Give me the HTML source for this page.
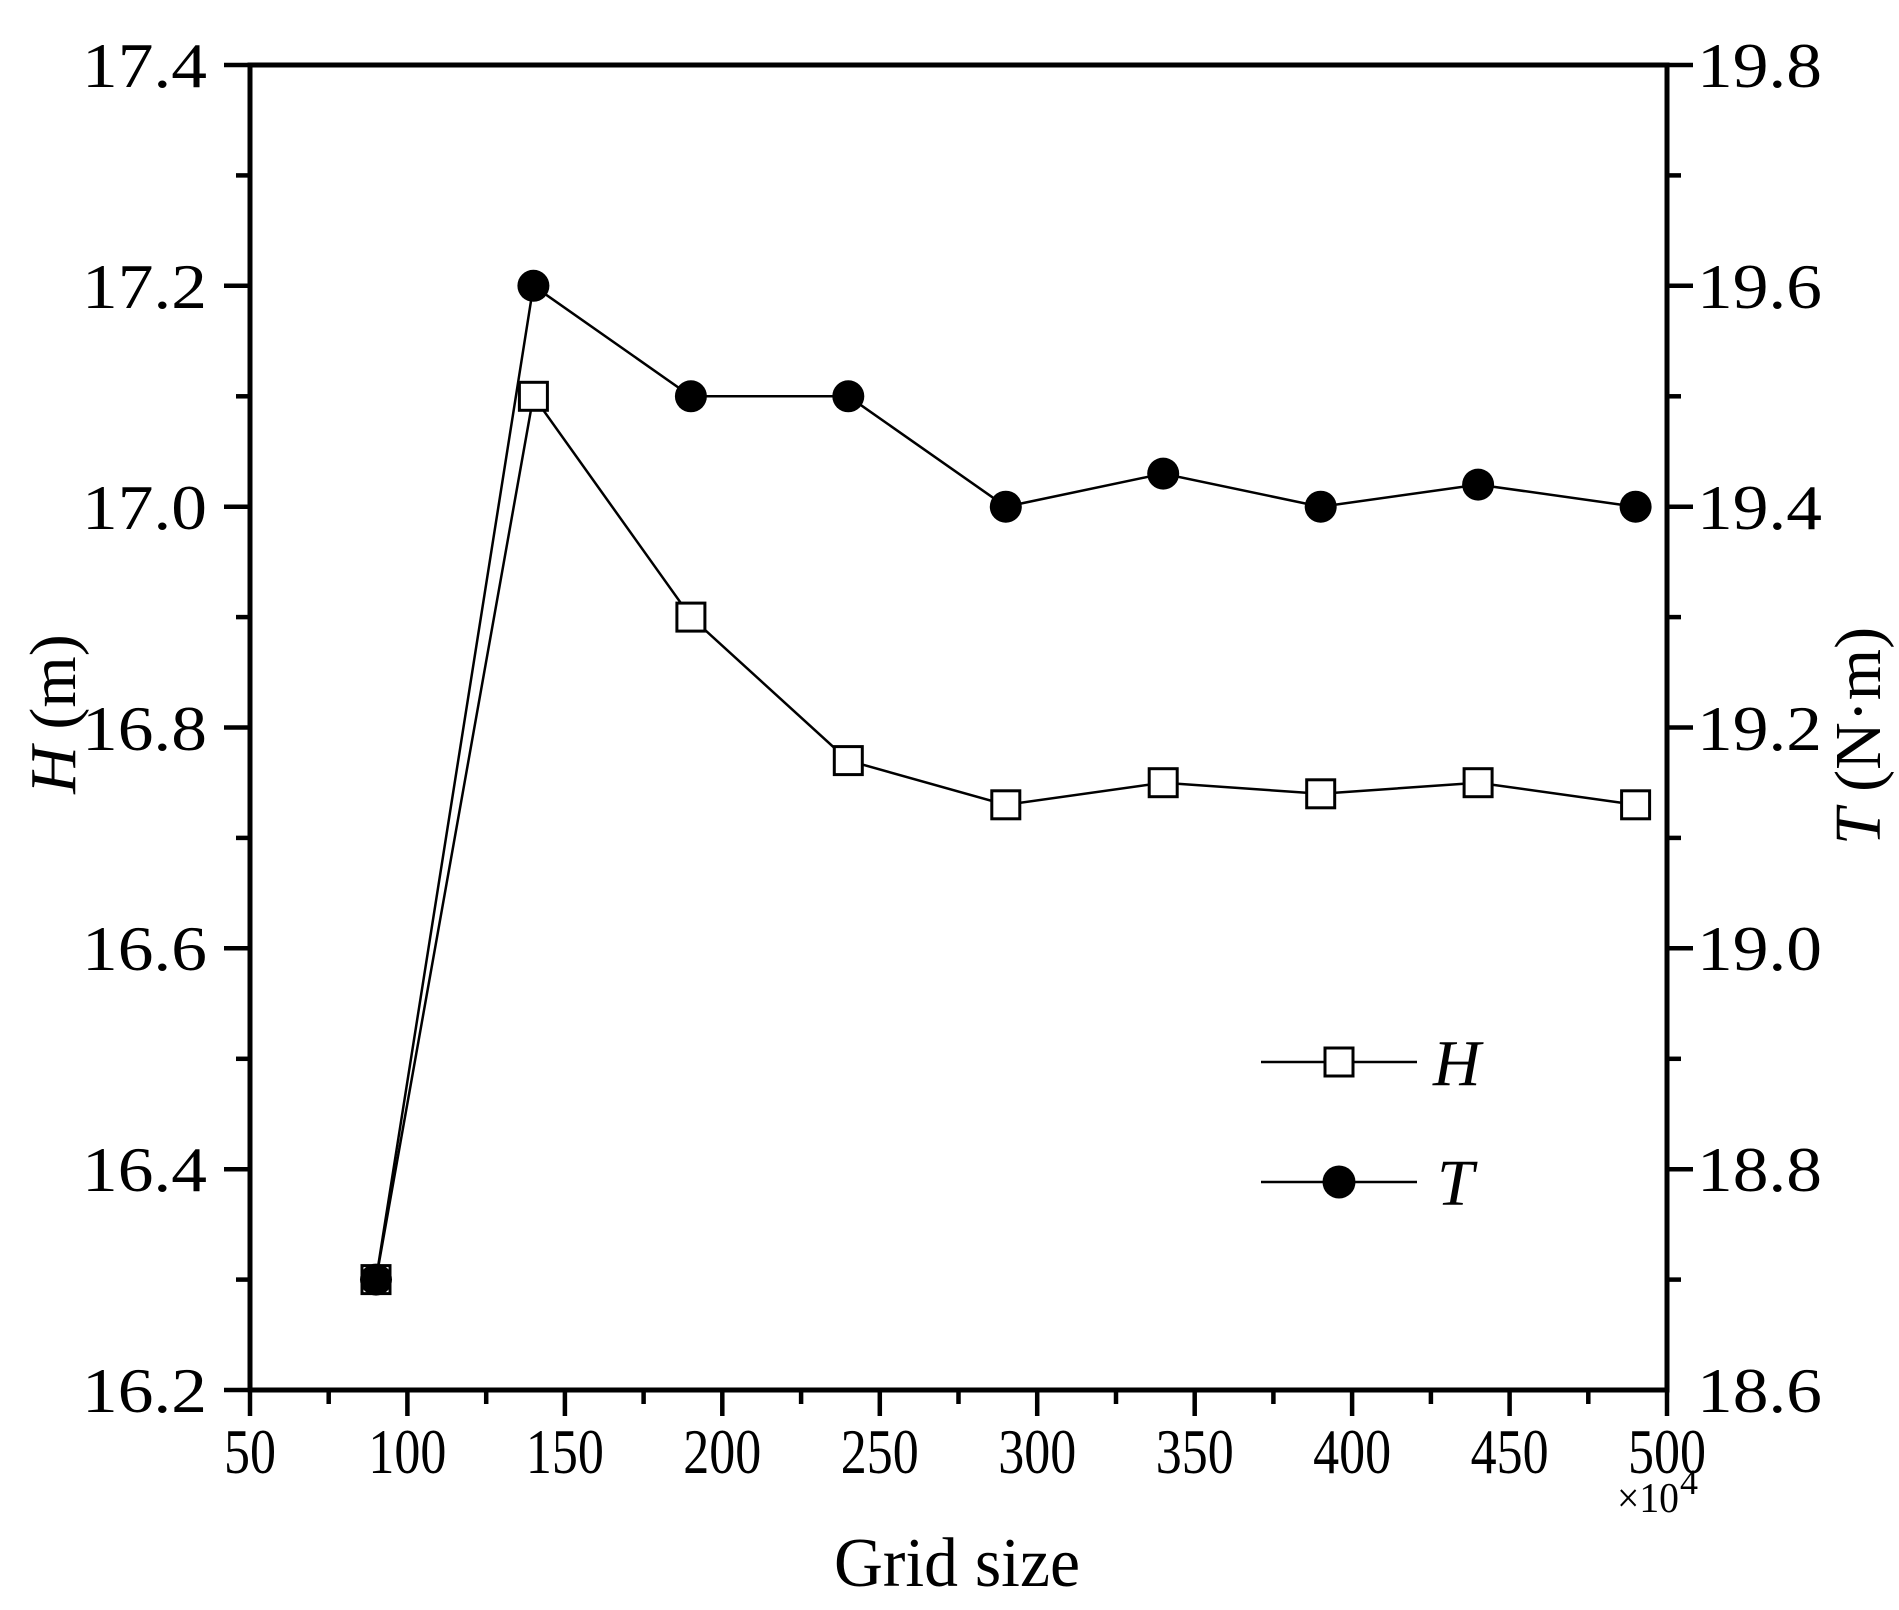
<!DOCTYPE html>
<html><head><meta charset="utf-8"><style>body{margin:0;background:#fff}svg{display:block}</style></head><body>
<svg width="1899" height="1610" viewBox="0 0 1899 1610" xmlns="http://www.w3.org/2000/svg" font-family="'Liberation Serif', serif">
<g stroke="#000" stroke-width="5" fill="none">
<rect x="250" y="65" width="1417" height="1325"/>
</g>
<g stroke="#000" stroke-width="4.5">
<line x1="250" y1="1390" x2="250" y2="1416"/><line x1="407.4" y1="1390" x2="407.4" y2="1416"/><line x1="564.9" y1="1390" x2="564.9" y2="1416"/><line x1="722.3" y1="1390" x2="722.3" y2="1416"/><line x1="879.8" y1="1390" x2="879.8" y2="1416"/><line x1="1037.2" y1="1390" x2="1037.2" y2="1416"/><line x1="1194.7" y1="1390" x2="1194.7" y2="1416"/><line x1="1352.1" y1="1390" x2="1352.1" y2="1416"/><line x1="1509.6" y1="1390" x2="1509.6" y2="1416"/><line x1="1667" y1="1390" x2="1667" y2="1416"/>
<line x1="328.7" y1="1390" x2="328.7" y2="1404"/><line x1="486.2" y1="1390" x2="486.2" y2="1404"/><line x1="643.6" y1="1390" x2="643.6" y2="1404"/><line x1="801.1" y1="1390" x2="801.1" y2="1404"/><line x1="958.5" y1="1390" x2="958.5" y2="1404"/><line x1="1116" y1="1390" x2="1116" y2="1404"/><line x1="1273.4" y1="1390" x2="1273.4" y2="1404"/><line x1="1430.9" y1="1390" x2="1430.9" y2="1404"/><line x1="1588.3" y1="1390" x2="1588.3" y2="1404"/>
<line x1="224" y1="65" x2="250" y2="65"/><line x1="224" y1="285.8" x2="250" y2="285.8"/><line x1="224" y1="506.7" x2="250" y2="506.7"/><line x1="224" y1="727.5" x2="250" y2="727.5"/><line x1="224" y1="948.3" x2="250" y2="948.3"/><line x1="224" y1="1169.2" x2="250" y2="1169.2"/><line x1="224" y1="1390" x2="250" y2="1390"/>
<line x1="236" y1="175.4" x2="250" y2="175.4"/><line x1="236" y1="396.3" x2="250" y2="396.3"/><line x1="236" y1="617.1" x2="250" y2="617.1"/><line x1="236" y1="837.9" x2="250" y2="837.9"/><line x1="236" y1="1058.8" x2="250" y2="1058.8"/><line x1="236" y1="1279.6" x2="250" y2="1279.6"/>
<line x1="1667" y1="65" x2="1693" y2="65"/><line x1="1667" y1="285.8" x2="1693" y2="285.8"/><line x1="1667" y1="506.7" x2="1693" y2="506.7"/><line x1="1667" y1="727.5" x2="1693" y2="727.5"/><line x1="1667" y1="948.3" x2="1693" y2="948.3"/><line x1="1667" y1="1169.2" x2="1693" y2="1169.2"/>
<line x1="1667" y1="175.4" x2="1681" y2="175.4"/><line x1="1667" y1="396.3" x2="1681" y2="396.3"/><line x1="1667" y1="617.1" x2="1681" y2="617.1"/><line x1="1667" y1="837.9" x2="1681" y2="837.9"/><line x1="1667" y1="1058.8" x2="1681" y2="1058.8"/><line x1="1667" y1="1279.6" x2="1681" y2="1279.6"/>
</g>
<g font-size="64" text-anchor="middle" fill="#000">
<text x="250" y="1473" textLength="52" lengthAdjust="spacingAndGlyphs">50</text>
<text x="407.4" y="1473" textLength="78" lengthAdjust="spacingAndGlyphs">100</text>
<text x="564.9" y="1473" textLength="78" lengthAdjust="spacingAndGlyphs">150</text>
<text x="722.3" y="1473" textLength="78" lengthAdjust="spacingAndGlyphs">200</text>
<text x="879.8" y="1473" textLength="78" lengthAdjust="spacingAndGlyphs">250</text>
<text x="1037.2" y="1473" textLength="78" lengthAdjust="spacingAndGlyphs">300</text>
<text x="1194.7" y="1473" textLength="78" lengthAdjust="spacingAndGlyphs">350</text>
<text x="1352.1" y="1473" textLength="78" lengthAdjust="spacingAndGlyphs">400</text>
<text x="1509.6" y="1473" textLength="78" lengthAdjust="spacingAndGlyphs">450</text>
<text x="1667" y="1473" textLength="78" lengthAdjust="spacingAndGlyphs">500</text>
</g>
<g font-size="64" text-anchor="end" fill="#000">
<text x="207" y="87" textLength="125" lengthAdjust="spacingAndGlyphs">17.4</text>
<text x="207" y="308" textLength="125" lengthAdjust="spacingAndGlyphs">17.2</text>
<text x="207" y="529" textLength="125" lengthAdjust="spacingAndGlyphs">17.0</text>
<text x="207" y="750" textLength="125" lengthAdjust="spacingAndGlyphs">16.8</text>
<text x="207" y="970" textLength="125" lengthAdjust="spacingAndGlyphs">16.6</text>
<text x="207" y="1191" textLength="125" lengthAdjust="spacingAndGlyphs">16.4</text>
<text x="207" y="1412" textLength="125" lengthAdjust="spacingAndGlyphs">16.2</text>
</g>
<g font-size="64" text-anchor="start" fill="#000">
<text x="1697" y="87" textLength="125" lengthAdjust="spacingAndGlyphs">19.8</text>
<text x="1697" y="308" textLength="125" lengthAdjust="spacingAndGlyphs">19.6</text>
<text x="1697" y="529" textLength="125" lengthAdjust="spacingAndGlyphs">19.4</text>
<text x="1697" y="750" textLength="125" lengthAdjust="spacingAndGlyphs">19.2</text>
<text x="1697" y="970" textLength="125" lengthAdjust="spacingAndGlyphs">19.0</text>
<text x="1697" y="1191" textLength="125" lengthAdjust="spacingAndGlyphs">18.8</text>
<text x="1697" y="1412" textLength="125" lengthAdjust="spacingAndGlyphs">18.6</text>
</g>
<text x="957" y="1586" font-size="70" text-anchor="middle" textLength="246" lengthAdjust="spacingAndGlyphs">Grid size</text>
<text x="1617" y="1512" font-size="42" textLength="62" lengthAdjust="spacingAndGlyphs">×10</text><text x="1680" y="1494" font-size="36">4</text>
<text transform="translate(75,714) rotate(-90)" font-size="66" text-anchor="middle"><tspan font-style="italic">H</tspan> (m)</text>
<text transform="translate(1880,736) rotate(-90)" font-size="66" text-anchor="middle"><tspan font-style="italic">T</tspan> (N·m)</text>
<polyline fill="none" stroke="#000" stroke-width="2.5" points="376,1279.6 533.4,396.3 690.9,617.1 848.3,760.6 1005.8,804.8 1163.2,782.7 1320.7,793.8 1478.1,782.7 1635.6,804.8"/>
<polyline fill="none" stroke="#000" stroke-width="2.5" points="376,1279.6 533.4,285.8 690.9,396.3 848.3,396.3 1005.8,506.7 1163.2,473.6 1320.7,506.7 1478.1,484.6 1635.6,506.7"/>
<g fill="#fff" stroke="#000" stroke-width="3">
<rect x="362" y="1265.6" width="28" height="28"/><rect x="519.4" y="382.3" width="28" height="28"/><rect x="676.9" y="603.1" width="28" height="28"/><rect x="834.3" y="746.6" width="28" height="28"/><rect x="991.8" y="790.8" width="28" height="28"/><rect x="1149.2" y="768.7" width="28" height="28"/><rect x="1306.7" y="779.8" width="28" height="28"/><rect x="1464.1" y="768.7" width="28" height="28"/><rect x="1621.6" y="790.8" width="28" height="28"/>
</g>
<g fill="#000">
<circle cx="376" cy="1279.6" r="16"/><circle cx="533.4" cy="285.8" r="16"/><circle cx="690.9" cy="396.3" r="16"/><circle cx="848.3" cy="396.3" r="16"/><circle cx="1005.8" cy="506.7" r="16"/><circle cx="1163.2" cy="473.6" r="16"/><circle cx="1320.7" cy="506.7" r="16"/><circle cx="1478.1" cy="484.6" r="16"/><circle cx="1635.6" cy="506.7" r="16"/>
</g>
<line x1="1261" y1="1062" x2="1417" y2="1062" stroke="#000" stroke-width="2.5"/>
<rect x="1325" y="1048" width="28" height="28" fill="#fff" stroke="#000" stroke-width="3"/>
<text x="1433" y="1085" font-size="66" font-style="italic">H</text>
<line x1="1261" y1="1182" x2="1417" y2="1182" stroke="#000" stroke-width="2.5"/>
<circle cx="1339" cy="1182" r="16.5" fill="#000"/>
<text x="1437" y="1205" font-size="66" font-style="italic">T</text>
</svg>
</body></html>
